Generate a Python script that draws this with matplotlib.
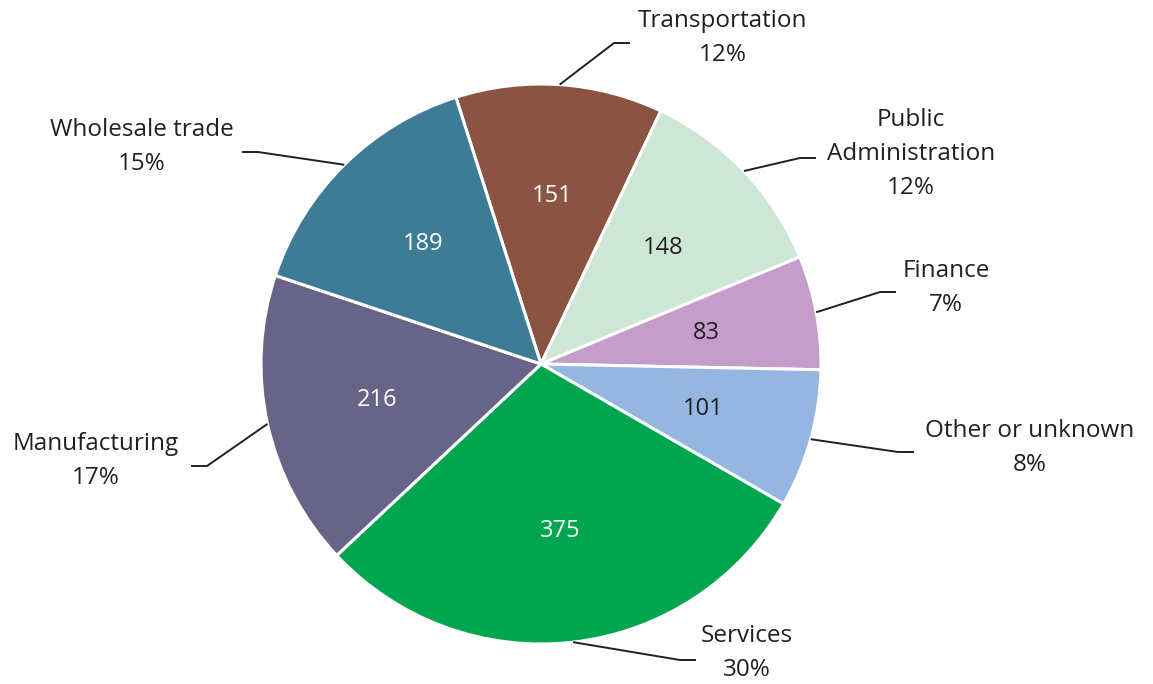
import numpy as np
import matplotlib.pyplot as plt

plt.rcParams['font.family'] = ['Open Sans', 'DejaVu Sans']

# data
sectors = ["Transportation", "Public\nAdministration", "Finance", "Other or unknown",
           "Services", "Manufacturing", "Wholesale trade"]
counts = [151, 148, 83, 101, 375, 216, 189]
colors = ["#8B5442", "#CDE6D5", "#C59DCA", "#95B6E0", "#00A54F", "#676487", "#3E7B95"]
value_colors = ["white", "#231f20", "#231f20", "#231f20", "white", "white", "white"]

# layout (pixel coords, y from top): leader elbow and label block centre
elbows = [(614, 43), (800, 158), (880, 292), (898, 452), (680, 660), (207, 466), (258, 152)]
label_pos = [(723, 38), (911, 154), (946, 288), (1030, 448), (747, 653), (96, 461), (142, 147)]

W, H = 1153, 684
cx, cy, R = 541, H - 364, 280

fig = plt.figure(figsize=(W / 100, H / 100), dpi=100)
ax = fig.add_axes([0, 0, 1, 1])

total = sum(counts)
wedges, _, autotexts = ax.pie(
    counts, colors=colors, startangle=107.7, counterclock=False,
    center=(cx, cy), radius=R, frame=True,
    autopct=lambda p: f"{round(p * total / 100)}", pctdistance=0.6,
    wedgeprops=dict(edgecolor="white", linewidth=2.2),
    textprops=dict(fontsize=17))
for t, c in zip(autotexts, value_colors):
    t.set_color(c)
ax.set_xlim(0, W)
ax.set_ylim(0, H)
ax.set_aspect('equal')
ax.axis('off')

for w, name, n, (ex, ey), (lx, ly) in zip(wedges, sectors, counts, elbows, label_pos):
    ang = np.deg2rad((w.theta1 + w.theta2) / 2)
    sx, sy = cx + R * np.cos(ang), cy + R * np.sin(ang)
    ey = H - ey
    side = 1 if ex > cx else -1
    ax.plot([sx, ex, ex + 16 * side], [sy, ey, ey], color="#231f20", lw=1.4,
            solid_capstyle='butt')
    pct = round(100 * n / total)
    ax.text(lx, H - ly, f"{name}\n{pct}%", ha='center', va='center',
            multialignment='center', fontsize=17.5, color="#231f20", linespacing=1.55)

plt.savefig("out.png", dpi=100)
